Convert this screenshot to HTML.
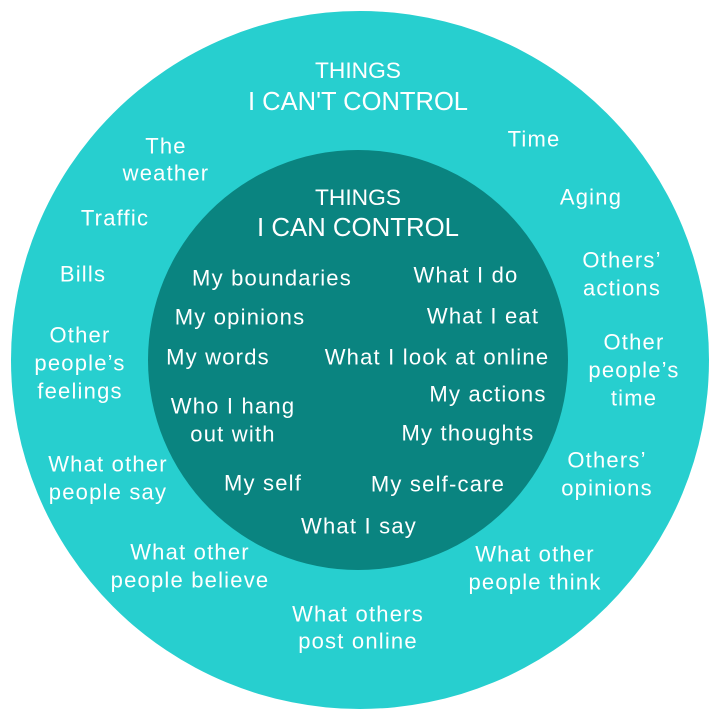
<!DOCTYPE html>
<html><head><meta charset="utf-8"><style>
html,body{margin:0;padding:0;background:#fff;}
svg{display:block}
text{font-family:"Liberation Sans",sans-serif;fill:#fff;}
.t{font-size:22px;letter-spacing:1.2px;text-anchor:middle;dominant-baseline:central;}
.h{text-anchor:middle;}
</style></head><body>
<svg width="714" height="720" viewBox="0 0 714 720">
<circle cx="360" cy="360" r="349" fill="#27cfcf"/>
<circle cx="358" cy="360" r="210" fill="#0a8480"/>
<text class="h" x="358" y="78" textLength="86" lengthAdjust="spacingAndGlyphs" style="font-size:22px">THINGS</text>
<text class="h" x="358" y="110" textLength="220" lengthAdjust="spacingAndGlyphs" style="font-size:26px">I CAN'T CONTROL</text>
<text class="h" x="358" y="205" textLength="86" lengthAdjust="spacingAndGlyphs" style="font-size:22px">THINGS</text>
<text class="h" x="358" y="236" textLength="202" lengthAdjust="spacingAndGlyphs" style="font-size:26px">I CAN CONTROL</text>
<text class="t" x="166" y="146">The</text><text class="t" x="166" y="173">weather</text>
<text class="t" x="115" y="218">Traffic</text>
<text class="t" x="83" y="274">Bills</text>
<text class="t" x="80" y="335">Other</text><text class="t" x="80" y="363">people’s</text><text class="t" x="80" y="391">feelings</text>
<text class="t" x="108" y="464">What other</text><text class="t" x="108" y="492">people say</text>
<text class="t" x="190" y="552">What other</text><text class="t" x="190" y="580">people believe</text>
<text class="t" x="358" y="614">What others</text><text class="t" x="358" y="641">post online</text>
<text class="t" x="535" y="554">What other</text><text class="t" x="535" y="582">people think</text>
<text class="t" x="607" y="460">Others’</text><text class="t" x="607" y="488">opinions</text>
<text class="t" x="634" y="342">Other</text><text class="t" x="634" y="370">people’s</text><text class="t" x="634" y="398">time</text>
<text class="t" x="622" y="260">Others’</text><text class="t" x="622" y="288">actions</text>
<text class="t" x="591" y="197">Aging</text>
<text class="t" x="534" y="139">Time</text>
<text class="t" x="272" y="278">My boundaries</text>
<text class="t" x="240" y="317">My opinions</text>
<text class="t" x="218" y="357">My words</text>
<text class="t" x="233" y="406">Who I hang</text><text class="t" x="233" y="434">out with</text>
<text class="t" x="263" y="483">My self</text>
<text class="t" x="359" y="526">What I say</text>
<text class="t" x="438" y="484">My self-care</text>
<text class="t" x="468" y="433">My thoughts</text>
<text class="t" x="488" y="394">My actions</text>
<text class="t" x="437" y="357">What I look at online</text>
<text class="t" x="483" y="316">What I eat</text>
<text class="t" x="466" y="275">What I do</text>
</svg>
</body></html>
